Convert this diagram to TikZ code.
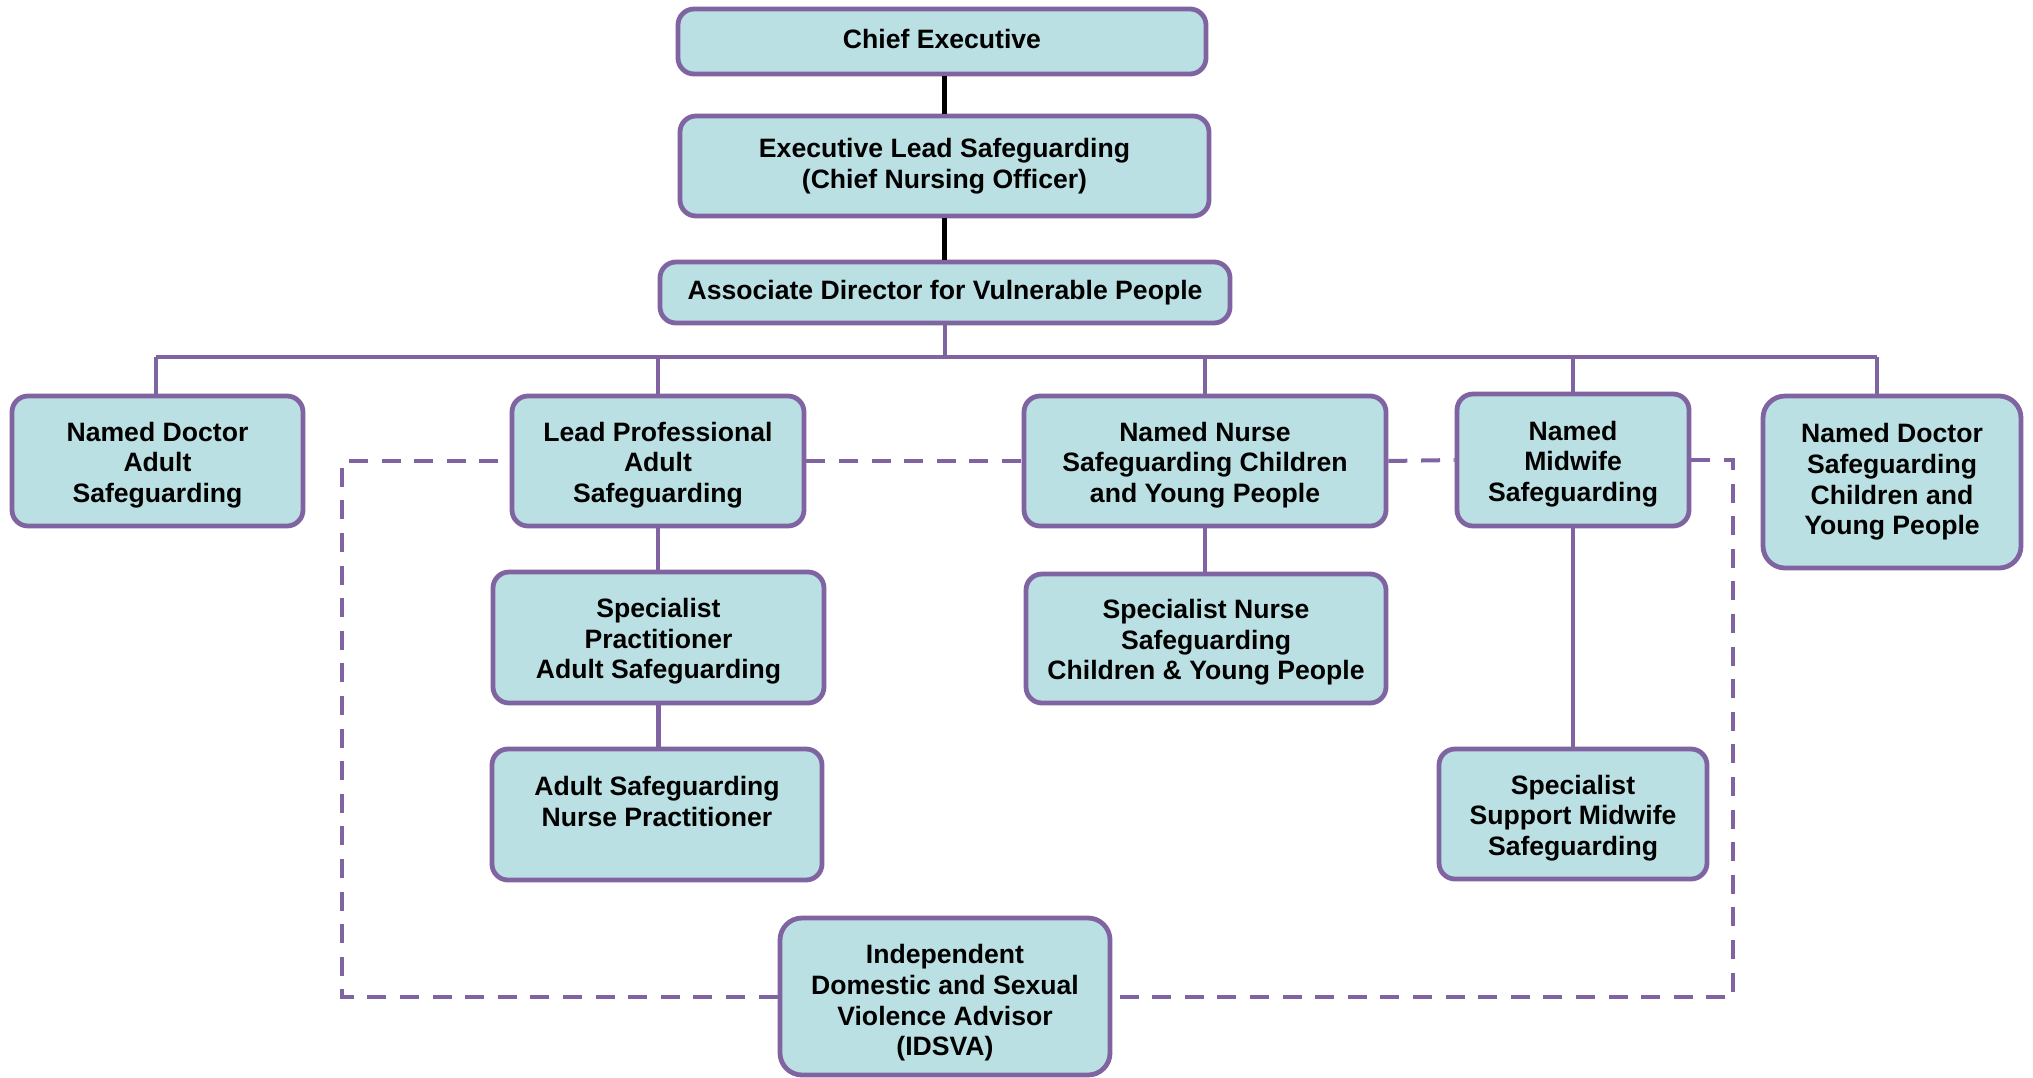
\documentclass[tikz,border=0pt]{standalone}
\usepackage{fontspec}
\setmainfont{Liberation Sans}
\definecolor{boxfill}{HTML}{BBE0E3}
\definecolor{boxline}{HTML}{8064A2}
\begin{document}
\begin{tikzpicture}[x=0.5pt,y=-0.5pt,
  box/.style={draw=boxline, line width=2.4pt, fill=boxfill, rounded corners=8pt,
    align=center, inner sep=2pt, font=\fontsize{13.3}{15.3}\selectfont\bfseries},
  down2/.style={text height=44.3pt},
  down3/.style={text height=46.7pt},
  down4/.style={text height=62pt},
  link/.style={draw=boxline, line width=2.2pt},
  toplink/.style={draw=black, line width=2.2pt},
  dashlink/.style={draw=boxline, line width=2pt, dash pattern=on 9.5pt off 6.8pt}]
\useasboundingbox (0,0) rectangle (2033,1077);

\node[box, minimum width=264pt, minimum height=32.5pt, text depth=2.6pt] (ce) at (942,41.5) {Chief Executive};
\node[box, minimum width=264.5pt, minimum height=50pt] (el) at (944.5,166) {Executive Lead Safeguarding\\(Chief Nursing Officer)};
\node[box, minimum width=285pt, minimum height=30.5pt] (ad) at (945,292.5) {Associate Director for Vulnerable People};

\node[box, down2, minimum width=145.5pt, minimum height=65pt] (nda) at (157.5,461) {Named Doctor\\Adult\\Safeguarding};
\node[box, down2, minimum width=146pt, minimum height=65pt] (lp) at (658,461) {Lead Professional\\Adult\\Safeguarding};
\node[box, down2, minimum width=181pt, minimum height=65pt] (nn) at (1205,461) {Named Nurse\\Safeguarding Children\\and Young People};
\node[box, down2, minimum width=116pt, minimum height=66pt] (nm) at (1573,460) {Named\\Midwife\\Safeguarding};
\node[box, minimum width=129pt, minimum height=86pt, rounded corners=11pt] (nds) at (1892,482) {Named Doctor\\Safeguarding\\Children and\\Young People};

\node[box, down2, minimum width=165.5pt, minimum height=65.5pt] (sp) at (658.5,637.5) {Specialist\\Practitioner\\Adult Safeguarding};
\node[box, down3, minimum width=165pt, minimum height=65.5pt] (asnp) at (657,814.5) {Adult Safeguarding\\Nurse Practitioner\\\strut};
\node[box, down2, minimum width=180pt, minimum height=64.5pt] (sn) at (1206,638.5) {Specialist Nurse\\Safeguarding\\Children \& Young People};
\node[box, down2, minimum width=134pt, minimum height=65pt] (ssm) at (1573,814) {Specialist\\Support Midwife\\Safeguarding};
\node[box, down4, minimum width=165pt, minimum height=78.5pt, rounded corners=11pt] (idsva) at (945,996.5) {Independent\\Domestic and Sexual\\Violence Advisor\\(IDSVA)};

% top connectors
\draw[toplink] (el.north) -- (el.north |- ce.south);
\draw[toplink] (el.south) -- (el.south |- ad.north);

% bus
\coordinate (busL) at (156,357);
\coordinate (busR) at (1877,357);
\draw[link] (ad.south) -- (ad.south |- busL);
\draw[link] (busL) -- (busR);
\draw[link] (busL) -- (busL |- nda.north);
\draw[link] (lp.north) -- (lp.north |- busL);
\draw[link] (nn.north) -- (nn.north |- busL);
\draw[link] (nm.north) -- (nm.north |- busL);
\draw[link] (busR) -- (busR |- nds.north);

% lower solid connectors
\draw[link] (lp.south) -- (lp.south |- sp.north);
\draw[link] (sp.south) -- (sp.south |- asnp.north);
\draw[link] (nn.south) -- (nn.south |- sn.north);
\draw[link] (nm.south) -- (nm.south |- ssm.north);

% dashed loop
\coordinate (dL) at (342,464);
\coordinate (dR) at (1733,997);
\draw[dashlink] (idsva.west) -| (dL) |- (lp.west);
\draw[dashlink] (lp.east) -- (nn.west);
\draw[dashlink] (nn.east) -- (nm.west);
\draw[dashlink] (nm.east) -| (dR) |- (idsva.east);
\end{tikzpicture}
\end{document}
